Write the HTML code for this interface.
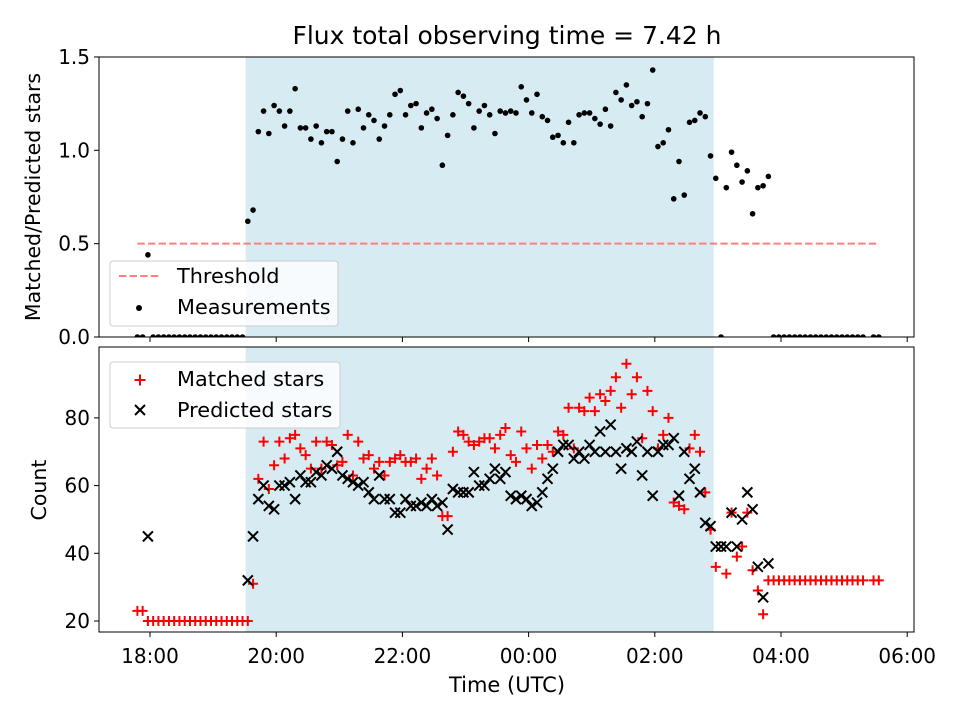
<!DOCTYPE html>
<html><head><meta charset="utf-8"><style>
body{margin:0;background:#fff}
svg text{font-family:"DejaVu Sans","Liberation Sans",sans-serif;fill:#000}
</style></head><body>
<svg id="chart" width="960" height="720" viewBox="0 0 960 720" xmlns="http://www.w3.org/2000/svg">
<defs>
<clipPath id="c1"><rect x="99" y="57" width="815" height="280"/></clipPath>
<clipPath id="c2"><rect x="99" y="347" width="815" height="285"/></clipPath>
</defs>
<rect width="960" height="720" fill="#fff"/>
<text x="507" y="44" font-size="25" text-anchor="middle">Flux total observing time = 7.42 h</text>
<g id="topPanel"></g>
<g id="botPanel"></g>
</svg>
<script>
// minutes after 17:00
const times = [48,53,58,63,68,73,78,83,88,93,98,103,108,113,118,123,128,133,138,143,148,
153,158,163,168,173,178,183,188,193,198,203,208,213,218,223,228,233,238,243,248,253,258,263,268,273,278,283,288,293,298,303,308,313,318,323,328,333,338,343,348,353,358,363,368,373,378,383,388,393,398,403,408,413,418,423,428,433,438,443,448,453,458,463,468,473,478,483,488,493,498,503,508,513,518,523,528,533,538,543,548,553,558,563,568,573,578,583,588,593,598,603,608,613,618,623,628,633,638,643,648,
653,658,663,668,673,678,683,688,693,698,703,708,713,718,723,728,733,738,748,753];
const ratio = [0,0,0.44,0,0,0,0,0,0,0,0,0,0,0,0,0,0,0,0,0,0,
0.62,0.68,1.10,1.21,1.09,1.24,1.21,1.13,1.21,1.33,1.12,1.12,1.06,1.13,1.04,1.10,1.10,0.94,1.06,1.21,1.04,1.22,1.12,1.19,1.16,1.06,1.13,1.19,1.30,1.32,1.19,1.24,1.25,1.12,1.20,1.22,1.17,0.92,1.08,1.19,1.31,1.29,1.25,1.12,1.21,1.24,1.19,1.09,1.21,1.20,1.21,1.20,
1.34,1.27,1.20,1.30,1.18,1.16,1.07,1.08,1.04,1.15,1.04,1.19,1.20,1.20,1.17,1.14,1.22,1.13,1.31,1.27,1.35,1.24,1.26,1.18,1.25,1.43,1.02,1.04,1.11,0.74,0.94,0.76,1.15,1.16,1.20,1.18,0.97,0.85,0,0.80,0.99,0.92,0.83,0.89,0.66,0.80,0.81,0.86,
0,0,0,0,0,0,0,0,0,0,0,0,0,0,0,0,0,0,0,0];
const matched = [23,23,20,20,20,20,20,20,20,20,20,20,20,20,20,20,20,20,20,20,20,
20,31,62,73,59,66,73,68,74,75,71,69,65,73,65,73,72,66,67,
75,63,73,68,69,65,67,63,67,68,69,67,67,68,62,65,68,63,51,51,70,76,75,73,72,73,74,74,71,75,77,69,67,
76,71,65,72,68,72,70,76,75,83,71,83,82,86,82,87,85,88,92,83,96,87,92,74,88,82,71,75,80,55,54,53,71,75,70,58,47,36,
0,34,52,39,42,52,35,29,22,32,
32,32,32,32,32,32,32,32,32,32,32,32,32,32,32,32,32,32,32,32];
const predicted = [0,0,45,0,0,0,0,0,0,0,0,0,0,0,0,0,0,0,0,0,0,
32,45,56,60,54,53,60,60,61,56,63,61,61,64,63,66,65,70,63,
62,61,60,61,58,56,63,56,56,52,52,56,54,54,55,54,56,54,55,47,59,58,58,58,64,60,60,62,65,62,64,57,56,
57,56,54,55,58,62,65,70,72,72,68,70,68,72,70,76,70,78,70,65,71,70,73,63,70,57,70,72,72,74,57,70,62,65,58,49,48,42,
42,42,52,42,50,58,53,36,27,37,
0,0,0,0,0,0,0,0,0,0,0,0,0,0,0,0,0,0,0,0];
const xTickLabels = ["18:00","20:00","22:00","00:00","02:00","04:00","06:00"];
const xTickMinutes = [60,180,300,420,540,660,780];
const topTicks = [0,0.5,1.0,1.5];
const botTicks = [20,40,60,80];
const threshold = 0.5;
const obsStart = 151, obsEnd = 596; // minutes after 17:00

const NS="http://www.w3.org/2000/svg";
function el(tag, attrs, parent){const e=document.createElementNS(NS,tag);for(const k in attrs)e.setAttribute(k,attrs[k]);parent.appendChild(e);return e;}
const X = m => 150 + (m-60)*126.2/120;
const Y1 = v => 337 - v*186.7;
const Y2 = v => 621 - (v-20)*3.385;
const topG=document.getElementById('topPanel'), botG=document.getElementById('botPanel');

function panel(g, y0, h, clip){
  const bg=el('rect',{x:99,y:y0,width:815,height:h,fill:'#fff'},g);
  
  
  const sh=el('rect',{x:X(obsStart),y:y0,width:X(obsEnd)-X(obsStart),height:h,fill:'#add8e6','fill-opacity':0.5,'clip-path':clip},g);
  
  
}
panel(topG,57,280,'url(#c1)');
panel(botG,347,285,'url(#c2)');

const th=el('line',{x1:X(48),x2:X(753),y1:Y1(threshold),y2:Y1(threshold),stroke:'#ff7f7f','stroke-width':2,'stroke-dasharray':'7.4,3.2'},topG);



const tg=el('g',{'clip-path':'url(#c1)'},topG);
times.forEach((t,i)=>{
  const c=el('circle',{cx:X(t),cy:Y1(ratio[i]),r:2.8,fill:'#000'},tg);
  
  
});
const bg2=el('g',{'clip-path':'url(#c2)'},botG);
times.forEach((t,i)=>{
  const x=X(t), y=Y2(matched[i]);
  const p=el('path',{d:`M${x-5},${y}H${x+5}M${x},${y-5}V${y+5}`,stroke:'#f00','stroke-width':2,fill:'none'},bg2);
  
  
});
times.forEach((t,i)=>{
  const x=X(t), y=Y2(predicted[i]);
  const p=el('path',{d:`M${x-5},${y-5}L${x+5},${y+5}M${x-5},${y+5}L${x+5},${y-5}`,stroke:'#000','stroke-width':2,fill:'none'},bg2);
  
  
});

function frame(g,y0,h){
  const f=el('rect',{x:99,y:y0,width:815,height:h,fill:'none',stroke:'#000','stroke-width':1},g);
  
  
  xTickMinutes.forEach((m)=>{el('line',{x1:X(m),x2:X(m),y1:y0+h,y2:y0+h+5,stroke:'#000'},g);});
}
frame(topG,57,280); frame(botG,347,285);
topTicks.forEach(v=>{
  el('line',{x1:94,x2:99,y1:Y1(v),y2:Y1(v),stroke:'#000'},topG);
  const t=el('text',{x:90,y:Y1(v)+7,'font-size':20,'text-anchor':'end'},topG);t.textContent=v.toFixed(1);
  
  
});
botTicks.forEach(v=>{
  el('line',{x1:94,x2:99,y1:Y2(v),y2:Y2(v),stroke:'#000'},botG);
  const t=el('text',{x:90,y:Y2(v)+7,'font-size':20,'text-anchor':'end'},botG);t.textContent=v;
  
  
});
xTickMinutes.forEach((m,i)=>{
  const t=el('text',{x:X(m),y:663,'font-size':20,'text-anchor':'middle'},botG);t.textContent=xTickLabels[i];
  
  
});
</script>
<svg style="position:absolute;left:0;top:0" width="960" height="720">
<text x="507" y="692" font-size="21" text-anchor="middle">Time (UTC)</text>
<text transform="translate(40,197) rotate(-90)" font-size="20.5" text-anchor="middle">Matched/Predicted stars</text>
<text transform="translate(46,490) rotate(-90)" font-size="20.5" text-anchor="middle">Count</text>
<g>
<rect x="110" y="261" width="228" height="65" rx="3" fill="#fff" fill-opacity="0.8" stroke="#ccc"/>
<line x1="119" y1="276" x2="160" y2="276" stroke="#ff7f7f" stroke-width="2" stroke-dasharray="7.4,3.2"/>
<text x="177" y="283" font-size="20.8">Threshold</text>
<circle cx="139" cy="308" r="3" fill="#000"/>
<text x="177" y="314" font-size="20.8">Measurements</text>
</g>
<g>
<rect x="110" y="362" width="230" height="66" rx="3" fill="#fff" fill-opacity="0.8" stroke="#ccc"/>
<path d="M134.5,380H145.5M140,374.5V385.5" stroke="#f00" stroke-width="2"/>
<text x="177" y="386" font-size="20.8">Matched stars</text>
<path d="M135,405L145,415M135,415L145,405" stroke="#000" stroke-width="2"/>
<text x="177" y="417" font-size="20.8">Predicted stars</text>
</g>
</svg>
</body></html>
